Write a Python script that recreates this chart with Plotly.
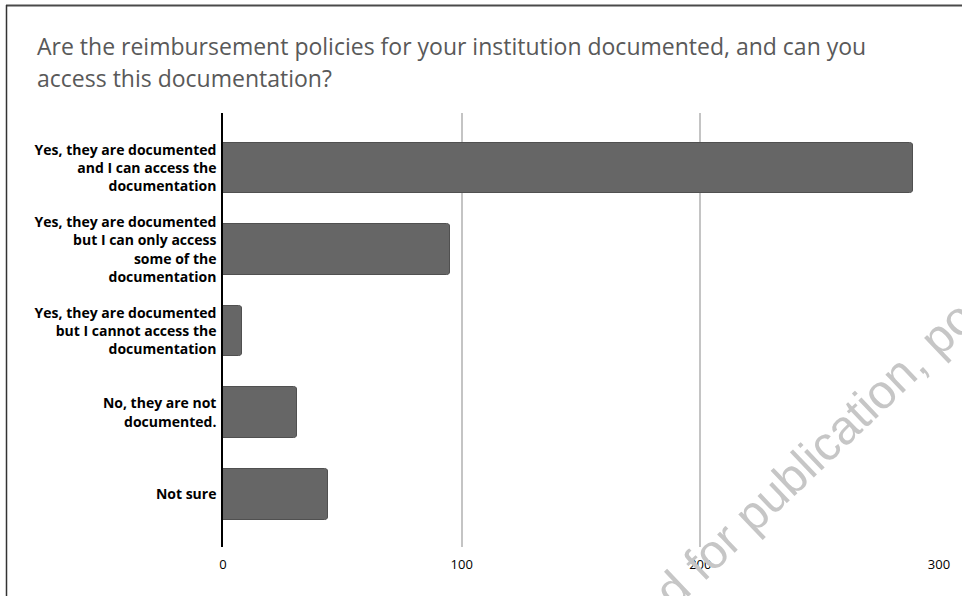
import plotly.graph_objects as go

# Survey responses
categories = [
    "Yes, they are documented<br>and I can access the<br>documentation",
    "Yes, they are documented<br>but I can only access<br>some of the<br>documentation",
    "Yes, they are documented<br>but I cannot access the<br>documentation",
    "No, they are not<br>documented.",
    "Not sure",
]
counts = [289, 95, 8, 31, 44]
x_ticks = [0, 100, 200, 300]

title_lines = [
    "Are the reimbursement policies for your institution documented, and can you",
    "access this documentation?",
]
watermark = "d for publication, po"

# plot-area geometry in pixels (used to convert to paper coordinates)
W, H = 962, 596
L, R, T, B = 223, 23, 113, 49
PW, PH = W - L - R, H - T - B


def px_x(px):
    return (px - L) / PW


def px_y(py):
    return 1 - (py - T) / PH


fig = go.Figure(
    go.Bar(
        x=counts,
        y=list(range(len(categories))),
        orientation="h",
        width=0.62,
        marker=dict(
            color="#666666",
            line=dict(color="#505050", width=1),
            cornerradius=3,
        ),
        hoverinfo="x",
    )
)

fig.update_layout(
    width=W,
    height=H,
    margin=dict(l=L, r=R, t=T, b=B, pad=0),
    paper_bgcolor="white",
    plot_bgcolor="white",
    showlegend=False,
    bargap=0,
    xaxis=dict(
        range=[0, 300],
        tickvals=x_ticks,
        ticktext=[str(v) for v in x_ticks],
        showgrid=True,
        gridcolor="#c4c4c4",
        gridwidth=1.5,
        zeroline=False,
        showline=False,
        ticks="outside",
        ticklen=5,
        tickcolor="rgba(0,0,0,0)",
        tickfont=dict(family="Open Sans", size=13, color="#000000"),
        fixedrange=True,
    ),
    yaxis=dict(
        range=[len(categories) - 1 + 0.647, -0.674],
        tickvals=list(range(len(categories))),
        ticktext=[f"<b>{c}</b>" for c in categories],
        showgrid=False,
        zeroline=False,
        showline=True,
        linecolor="#000000",
        linewidth=1.5,
        ticks="outside",
        ticklen=2,
        tickcolor="rgba(0,0,0,0)",
        tickfont=dict(family="Open Sans", size=14, color="#000000"),
        fixedrange=True,
    ),
)

# title, two lines
for line, py in zip(title_lines, [46, 78]):
    fig.add_annotation(
        text=line,
        xref="paper",
        yref="paper",
        x=px_x(35),
        y=px_y(py),
        xanchor="left",
        yanchor="middle",
        showarrow=False,
        font=dict(family="Open Sans", size=23, color="#595959"),
    )

# diagonal watermark, running off the bottom and right edges
fig.add_annotation(
    text=watermark,
    xref="paper",
    yref="paper",
    x=px_x(814),
    y=px_y(454),
    xanchor="center",
    yanchor="middle",
    textangle=-43.5,
    showarrow=False,
    font=dict(family="Liberation Sans", size=48, color="#c6c6c6"),
)

# frame lines along the top and left edges
fig.add_shape(
    type="line", xref="paper", yref="paper",
    x0=px_x(6), x1=px_x(W + 5), y0=px_y(5.5), y1=px_y(5.5),
    line=dict(color="#4a4a4a", width=2),
)
fig.add_shape(
    type="line", xref="paper", yref="paper",
    x0=px_x(6.5), x1=px_x(6.5), y0=px_y(5), y1=px_y(H + 5),
    line=dict(color="#333333", width=1.5),
)

fig.write_html("out.html")
